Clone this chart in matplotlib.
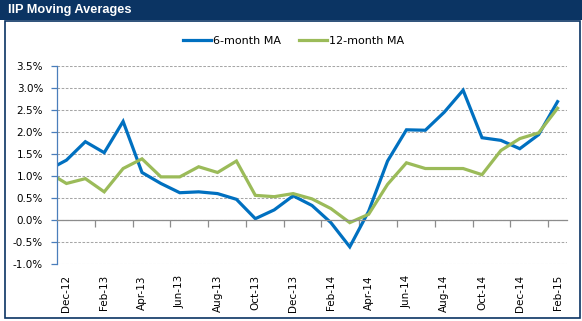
import matplotlib.pyplot as plt
from matplotlib.patches import Rectangle
from matplotlib.lines import Line2D
from matplotlib.ticker import FuncFormatter

# monthly moving averages of IIP growth (%), Nov-12 .. Feb-15
months = ['Nov-12', 'Dec-12', 'Jan-13', 'Feb-13', 'Mar-13', 'Apr-13', 'May-13',
          'Jun-13', 'Jul-13', 'Aug-13', 'Sep-13', 'Oct-13', 'Nov-13', 'Dec-13',
          'Jan-14', 'Feb-14', 'Mar-14', 'Apr-14', 'May-14', 'Jun-14', 'Jul-14',
          'Aug-14', 'Sep-14', 'Oct-14', 'Nov-14', 'Dec-14', 'Jan-15', 'Feb-15']
ma6 = [1.13, 1.36, 1.78, 1.53, 2.24, 1.08, 0.83, 0.62, 0.64, 0.60, 0.47, 0.03,
       0.23, 0.55, 0.33, -0.06, -0.61, 0.20, 1.34, 2.05, 2.04, 2.45, 2.95, 1.87,
       1.81, 1.62, 1.94, 2.69]
ma12 = [1.09, 0.83, 0.94, 0.64, 1.17, 1.39, 0.98, 0.98, 1.21, 1.08, 1.34, 0.56,
        0.53, 0.60, 0.48, 0.26, -0.06, 0.13, 0.81, 1.30, 1.17, 1.17, 1.17, 1.03,
        1.58, 1.85, 1.98, 2.54]
yticks = [-1.0, -0.5, 0.0, 0.5, 1.0, 1.5, 2.0, 2.5, 3.0, 3.5]

navy = '#0B3463'
blue = '#0070C0'
green = '#9BBB59'

W, H = 582, 321
fig = plt.figure(figsize=(W / 100, H / 100), dpi=100)

# title bar + frame
fig.patches.append(Rectangle((0, 1 - 20 / H), 1, 20 / H, transform=fig.transFigure,
                             facecolor=navy, edgecolor='none'))
fig.patches.append(Rectangle((5 / W, 3 / H), 575 / W, 297 / H, transform=fig.transFigure,
                             facecolor='none', edgecolor=navy, lw=1.2))
fig.text(8 / W, 1 - 10.5 / H, 'IIP Moving Averages', color='white', fontsize=9.2,
         fontweight='bold', family='Liberation Sans', va='center', ha='left')

ax = fig.add_axes([57 / W, 1 - 264 / H, 510 / W, 198 / H])
x = list(range(-1, len(months) - 1))
ax.plot(x, ma6, color=blue, lw=2.3, solid_joinstyle='miter')
ax.plot(x, ma12, color=green, lw=2.3, solid_joinstyle='miter')

ax.set_xlim(-0.5, len(months) - 1.5)
ax.set_ylim(-1.0, 3.5)
ax.set_yticks(yticks)
ax.yaxis.set_major_formatter(FuncFormatter(lambda v, p: f'{v:.1f}%'))
ax.yaxis.grid(True, linestyle=(0, (2.5, 1.5)), color='#A6A6A6', lw=0.75)
ax.set_axisbelow(True)

for s in ['top', 'right']:
    ax.spines[s].set_visible(False)
ax.spines['left'].set_color('#4A7EBB')
ax.spines['left'].set_linewidth(0.9)
ax.spines['bottom'].set_position(('data', 0))
ax.spines['bottom'].set_color('#8C8C8C')
ax.spines['bottom'].set_linewidth(0.9)
ax.tick_params(axis='y', colors='#4A7EBB', length=4, width=0.9, labelsize=7.5,
               labelcolor='black', pad=6)
ax.set_xticks([i + 0.5 for i in range(1, len(months) - 2, 2)])
ax.tick_params(axis='x', colors='#8C8C8C', length=5, width=0.9, labelbottom=False)

# category labels sit below the plot area
secax = ax.secondary_xaxis(0.0)
secax.set_xticks(list(range(0, len(months) - 1, 2)))
secax.set_xticklabels(months[1::2], rotation=90, fontsize=7.5)
secax.tick_params(length=0, pad=8)
secax.spines['bottom'].set_visible(False)

handles = [Line2D([], [], color=blue, lw=2.3), Line2D([], [], color=green, lw=2.3)]
fig.legend(handles, ['6-month MA', '12-month MA'], loc='center', ncol=2,
           bbox_to_anchor=(0.505, 1 - 41 / H), frameon=False, fontsize=8,
           handlelength=2.5, handletextpad=0.2, columnspacing=1.6)

fig.savefig('out.png', dpi=100)
